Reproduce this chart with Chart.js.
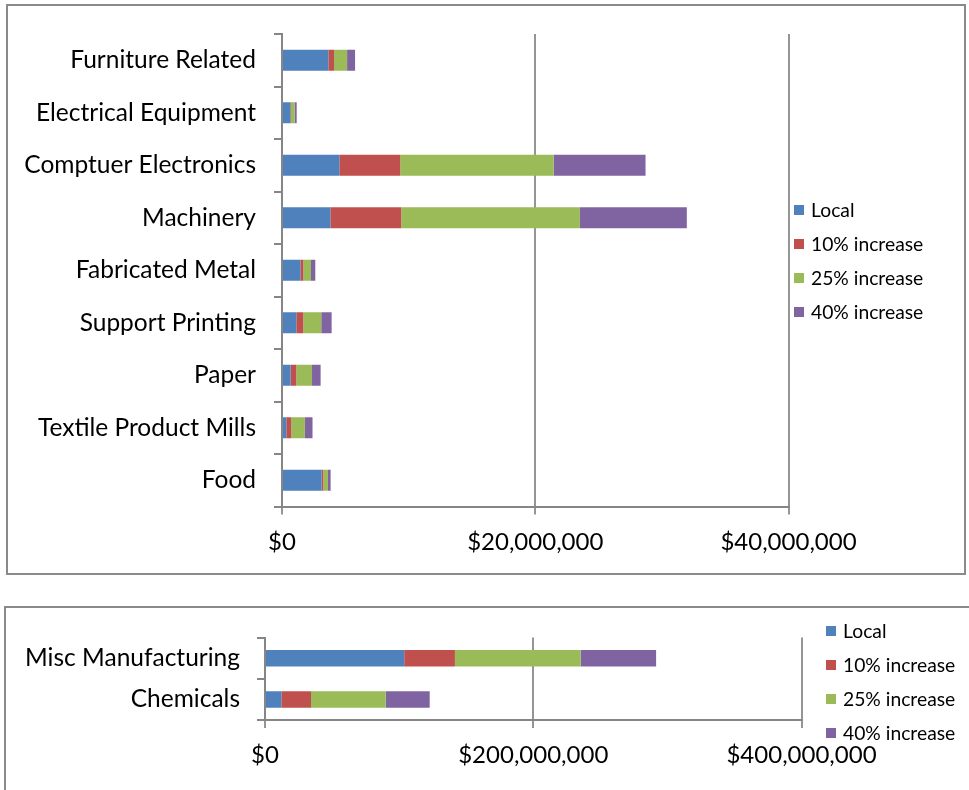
<!DOCTYPE html>
<html>
<head>
<meta charset="utf-8">
<title>Output by industry</title>
<script src="https://cdn.jsdelivr.net/npm/chart.js@4.4.1/dist/chart.umd.min.js"></script>
<style>
  html, body { margin: 0; padding: 0; background: #fff; }
  body { width: 969px; height: 790px; position: relative; overflow: hidden; }
  .chart-box { position: absolute; box-sizing: border-box; border: 2px solid #8a8a8a; background: #fff; overflow: hidden; }
  #boxTop { left: 6px; top: 4px; width: 960px; height: 571px; }
  #boxBottom { left: 4px; top: 606px; width: 972px; height: 200px; }
  canvas { display: block; }
</style>
</head>
<body>
<div class="chart-box" id="boxTop"><canvas id="topChart" width="956" height="566"></canvas></div>
<div class="chart-box" id="boxBottom"><canvas id="bottomChart" width="968" height="196"></canvas></div>

<script>
// Series shared by both charts
const seriesNames = ['Local', '10% increase', '25% increase', '40% increase'];
const seriesColors = ['#4F81BD', '#C0504D', '#9BBB59', '#8064A2'];

// Smaller industries (dollars)
const topCategories = [
  'Furniture Related', 'Electrical Equipment', 'Comptuer Electronics', 'Machinery',
  'Fabricated Metal', 'Support Printing', 'Paper', 'Textile Product Mills', 'Food'
];
const topLocal = [3660000, 660000, 4530000, 3820000, 1450000, 1130000, 680000, 340000, 3130000];
const topIncrease10 = [450000, 50000, 4810000, 5600000, 240000, 550000, 450000, 390000, 130000];
const topIncrease25 = [1030000, 290000, 12110000, 14110000, 600000, 1420000, 1240000, 1080000, 370000];
const topIncrease40 = [630000, 160000, 7260000, 8440000, 340000, 820000, 680000, 600000, 210000];
const topTicks = { max: 40000000, step: 20000000 };

// Larger industries (dollars)
const bottomCategories = ['Misc Manufacturing', 'Chemicals'];
const bottomLocal = [103800000, 12200000];
const bottomIncrease10 = [37800000, 22100000];
const bottomIncrease25 = [93700000, 55700000];
const bottomIncrease40 = [56300000, 32800000];
const bottomTicks = { max: 400000000, step: 200000000 };

const FONT = 'Lato, "Liberation Sans", sans-serif';
const AXIS_GRAY = '#868686';
const GRID_GRAY = '#959595';

/**
 * Legend drawn to the right of the plot, one row per dataset
 */
const sideLegend = {
  id: 'sideLegend',
  afterDraw(chart, args, opts) {
    const ctx = chart.ctx;
    const x = chart.chartArea.right + opts.offsetX;
    ctx.save();
    ctx.font = `${opts.fontSize}px ${FONT}`;
    ctx.textBaseline = 'middle';
    ctx.textAlign = 'left';
    chart.data.datasets.forEach((ds, i) => {
      const y = opts.top + i * opts.rowGap;
      ctx.fillStyle = ds.backgroundColor;
      ctx.fillRect(x, y - 5, 10, 10);
      ctx.fillStyle = '#000';
      ctx.fillText(ds.label, x + 17, y + 1);
    });
    ctx.restore();
  }
};

function formatDollars(value) {
  return '$' + Number(value).toLocaleString('en-US');
}

/**
 * Build a stacked horizontal bar chart
 */
function createStackedBarChart(canvasId, categories, series, ticks, layout) {
  const ctx = document.getElementById(canvasId);
  if (!ctx) {
    console.warn('Canvas not found: ' + canvasId);
    return null;
  }

  return new Chart(ctx, {
    type: 'bar',
    data: {
      labels: categories,
      datasets: series.map((values, i) => ({
        label: seriesNames[i],
        data: values,
        backgroundColor: seriesColors[i],
        borderWidth: 0,
        barPercentage: 0.4,
        categoryPercentage: 1
      }))
    },
    plugins: [sideLegend],
    options: {
      indexAxis: 'y',
      responsive: false,
      animation: false,
      events: [],
      layout: {
        padding: { top: layout.top, right: layout.right, bottom: 0, left: 0 }
      },
      plugins: {
        legend: { display: false },
        tooltip: { enabled: false },
        sideLegend: layout.legend
      },
      scales: {
        x: {
          stacked: true,
          min: 0,
          max: ticks.max,
          afterFit: scale => { scale.height = layout.xHeight; },
          ticks: {
            stepSize: ticks.step,
            padding: 13,
            maxRotation: 0,
            color: '#000',
            font: { family: FONT, size: 24 },
            callback: formatDollars
          },
          grid: { color: GRID_GRAY, lineWidth: 2, tickLength: 8 },
          border: { display: true, color: AXIS_GRAY, width: 2 }
        },
        y: {
          stacked: true,
          afterFit: scale => {
            // category labels sit mid-band, so no extra room is needed above or below
            scale.width = layout.yWidth;
            scale.paddingTop = 0;
            scale.paddingBottom = 0;
          },
          ticks: {
            padding: layout.labelPad,
            color: '#000',
            font: { family: FONT, size: layout.labelSize }
          },
          grid: {
            drawOnChartArea: false,
            offset: true,
            color: AXIS_GRAY,
            lineWidth: 2,
            tickLength: 8
          },
          border: { display: true, color: AXIS_GRAY, width: 2 }
        }
      }
    }
  });
}

createStackedBarChart(
  'topChart',
  topCategories,
  [topLocal, topIncrease10, topIncrease25, topIncrease40],
  topTicks,
  {
    top: 28, right: 175.5, yWidth: 274, xHeight: 65.5, labelPad: 18, labelSize: 24.5,
    legend: { offsetX: 5.5, top: 204, rowGap: 34, fontSize: 19.3 }
  }
);

createStackedBarChart(
  'bottomChart',
  bottomCategories,
  [bottomLocal, bottomIncrease10, bottomIncrease25, bottomIncrease40],
  bottomTicks,
  {
    top: 29.5, right: 172.5, yWidth: 259, xHeight: 84, labelPad: 17, labelSize: 24.5,
    legend: { offsetX: 24.5, top: 23, rowGap: 34, fontSize: 19.3 }
  }
);
</script>
</body>
</html>
